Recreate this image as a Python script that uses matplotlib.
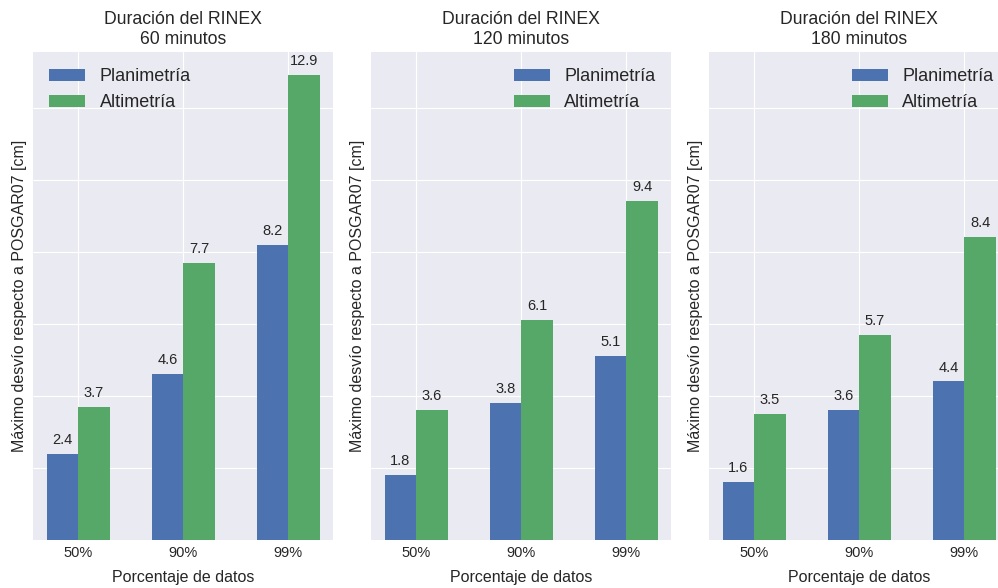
import numpy as np
import matplotlib
matplotlib.use("Agg")
from matplotlib import pyplot as plt

plt.style.use("seaborn-v0_8-darkgrid")
plt.rcParams["font.family"] = ["Liberation Sans", "DejaVu Sans"]

categories = ["50%", "90%", "99%"]
durations = ["60 minutos", "120 minutos", "180 minutos"]
planimetria = [[2.4, 4.6, 8.2], [1.8, 3.8, 5.1], [1.6, 3.6, 4.4]]
altimetria = [[3.7, 7.7, 12.9], [3.6, 6.1, 9.4], [3.5, 5.7, 8.4]]
legend_loc = ["upper left", "upper right", "upper right"]

fig, axes = plt.subplots(1, 3, figsize=(9.98, 5.88), dpi=100, sharey=True)
x = np.arange(len(categories))
w = 0.3

for i, ax in enumerate(axes):
    b1 = ax.bar(x - w / 2, planimetria[i], w, color="#4C72B0", label="Planimetría")
    b2 = ax.bar(x + w / 2, altimetria[i], w, color="#55A868", label="Altimetría")
    for bars in (b1, b2):
        for bar in bars:
            h = bar.get_height()
            ax.annotate(f"{h:.1f}", (bar.get_x() + bar.get_width() / 2, h),
                        xytext=(0, 5), textcoords="offset points",
                        ha="center", va="bottom", fontsize=10.5, color="#262626")
    ax.set_xticks(x)
    ax.set_xticklabels(categories, fontsize=10.5)
    ax.set_xlabel("Porcentaje de datos", fontsize=11.5, labelpad=7)
    ax.set_ylabel("Máximo desvío respecto a POSGAR07 [cm]", fontsize=11.5)
    ax.set_title("Duración del RINEX\n" + durations[i], fontsize=12.7)
    ax.tick_params(axis="y", labelleft=False)
    ax.tick_params(axis="x", pad=4.5)
    ax.legend(loc=legend_loc[i], fontsize=13, frameon=False)

axes[0].set_ylim(0, 12.9 * 1.05)
axes[0].set_yticks([2, 4, 6, 8, 10, 12])

# third panel runs slightly past the right edge, like the original crop
fig.subplots_adjust(left=33 / 998, right=1009.5 / 998, bottom=48 / 588, top=536 / 588, wspace=0.1248)
fig.savefig("out.png", dpi=100)
